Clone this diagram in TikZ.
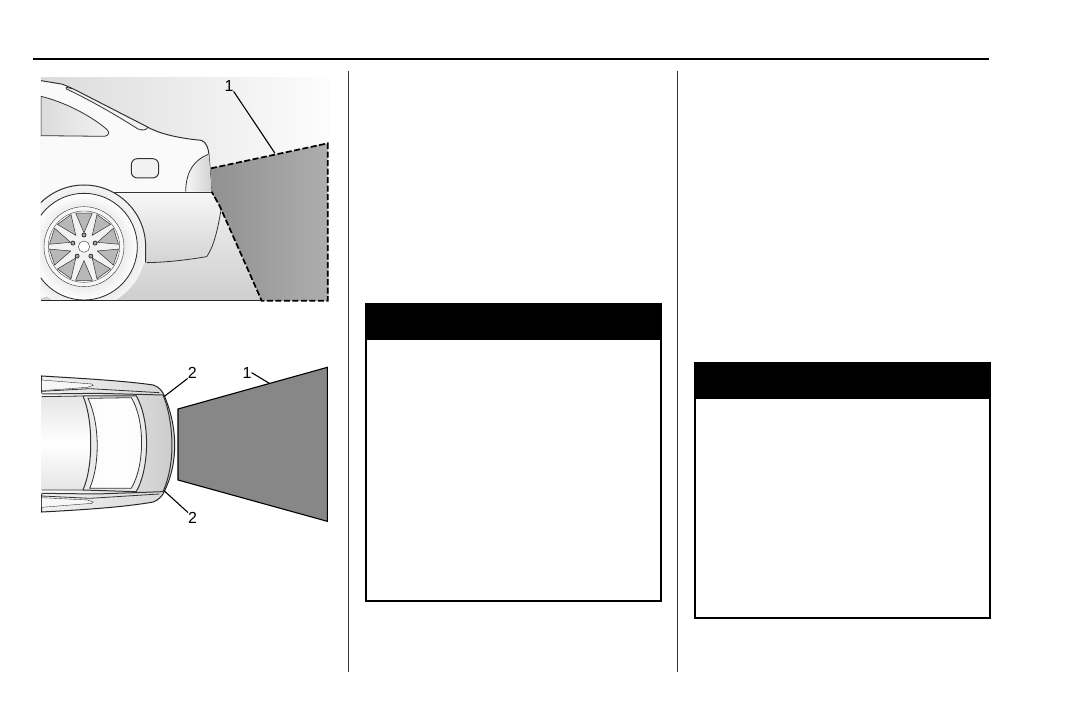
\documentclass[tikz,border=0pt]{standalone}
\usepackage{fontspec}
\setmainfont{Liberation Sans}
\usetikzlibrary{calc}
\tikzset{
  rule/.style={line width=1.7pt,black},
  colrule/.style={black!80,line width=1pt},
  warnbox/.style={draw=black,line width=2pt},
  warnhead/.style={fill=black,draw=none},
  carline/.style={black!80,line width=0.8pt},
  leader/.style={black,line width=1.1pt},
  calllabel/.style={font=\fontsize{16}{16}\selectfont,inner sep=0pt,black},
}
\begin{document}
\begin{tikzpicture}[x=1pt,y=-1pt]
\useasboundingbox (0,0) rectangle (1071,714);
\fill[white] (0,0) rectangle (1071,714);
% page rules
\coordinate (hl) at (33,59); \coordinate (hr) at (989,59);
\draw[rule] (hl) -- (hr);
\coordinate (c1t) at (348.5,71); \coordinate (c1b) at (348.5,672);
\coordinate (c2t) at (677.5,71); \coordinate (c2b) at (677.5,672);
\draw[colrule] (c1t) -- (c1b);
\draw[colrule] (c2t) -- (c2b);
% warning boxes
\draw[warnbox] (366,304) rectangle (660.5,600.5);
\fill[warnhead] (365,303) rectangle (661.5,340);
\draw[warnbox] (695,363) rectangle (989.5,618);
\fill[warnhead] (694,362) rectangle (990.5,398.5);

% ---------- upper illustration (zoom coordinates)
\begin{scope}[x=0.33333pt,y=-0.33333pt,shift={(90,195)}]
  \begin{scope}
    \clip (33,38) rectangle (895,708);
    \shade[left color=black!14,right color=black!1] (33,38) rectangle (895,400);
    \shade[top color=black!6,bottom color=black!19] (33,400) rectangle (895,708);
    % car body
    \path[fill=black!2,draw=none] (33,47) -- (94,57) .. controls (105,60) and (115,65) .. (130,72) -- (354,187)
      .. controls (400,212) and (470,222) .. (514,226)
      .. controls (530,232) and (535,250) .. (537,270) -- (545,380)
      -- (575,425) .. controls (565,480) and (555,540) .. (530,575)
      .. controls (470,585) and (410,592) .. (350,593) -- (33,700) -- cycle;
    \shade[top color=black!3,bottom color=black!17] (250,382) -- (545,382) -- (575,425)
      .. controls (565,480) and (555,540) .. (530,575)
      .. controls (470,585) and (410,592) .. (350,593) -- (330,500) -- cycle;
    \draw[carline,line width=1pt] (33,47) -- (94,57) .. controls (105,60) and (115,65) .. (130,72) -- (354,187)
      .. controls (400,212) and (470,222) .. (514,226)
      .. controls (530,232) and (535,250) .. (537,270) -- (545,380);
    % roof band
    \path[fill=black!5,draw=black!80,line width=.8pt] (109,67) -- (130,72) -- (354,187)
      .. controls (350,196) and (335,197) .. (324,192)
      .. controls (250,145) and (170,100) .. (109,72) -- cycle;
    \draw[carline] (575,425) .. controls (565,480) and (555,540) .. (530,575)
      .. controls (470,585) and (410,592) .. (350,593);
    \draw[carline] (545,382) -- (575,425);
    % side window
    \shade[draw=black!80,line width=0.8pt,left color=black!14,right color=black!5] (33,94)
      .. controls (100,110) and (180,150) .. (229,192)
      .. controls (240,200) and (238,212) .. (224,214) -- (33,212) -- cycle;
    % rear lamp
    \shade[left color=black!3,right color=black!18] (534,268)
      .. controls (495,285) and (468,315) .. (467,380) -- (545,380) -- (537,270) -- cycle;
    \draw[carline] (534,268) .. controls (495,285) and (468,315) .. (467,380);
    \draw[carline] (250,382) -- (545,382);
    % fuel door
    \draw[black!80,fill=black!5,line width=1pt,rounded corners=6pt] (304,281) rectangle (386,339);
    % arch and tyre
    \shade[inner color=black!25,outer color=black!4] (162,545) circle (186);
    \draw[carline,line width=1pt] (347,593) -- (347,545) arc (0:-140:185);
    \shade[inner color=black!30,outer color=white] (162,545) circle (160);
    \draw[black!85,line width=.8pt] (162,545) circle (160);
    \fill[black!3,draw=black!80] (162,545) circle (120);
    \draw[black!75] (162,545) circle (107);
    \fill[black!5] (162,545) circle (105);
    \foreach \a in {0,36,...,324}{
      \fill[black!28,draw=black!80,line width=.5pt] ($(162,545)+(\a+18+14:104)$) -- ($(162,545)+(\a+18-14:104)$) -- ($(162,545)+(\a+18:42)$) -- cycle;
    }
    \fill[white,draw=black!80] (162,545) circle (17);
    \foreach \a in {18,90,162,234,306}{
      \fill[black!35,draw=black!85,line width=.7pt] ($(162,545)+(-\a:35)$) circle (6);
    }
    % ground edge
    \draw[black!85,line width=1pt] (33,707) -- (695,707);
  \end{scope}
  % zone
  \coordinate (z1) at (543,310); \coordinate (z2) at (893,235); \coordinate (z3) at (893,707);
  \coordinate (z4) at (695,707); \coordinate (z5) at (570,425); \coordinate (z6) at (545,380);
  \shade[left color=black!43,right color=black!32] (z1) -- (z2) -- (z3) -- (z4) -- (z5) -- (z6) -- cycle;
  \draw[black,line width=1.7pt,dash pattern=on 6pt off 2.5pt] (z1) -- (z2) -- (z3) -- (z4) -- (z5) -- (z6);
  \node[calllabel] (a1) at (597,62) {1};
  \coordinate (a1e) at (735,265);
  \draw[leader] (a1.south east) -- (a1e);
\end{scope}

% ---------- lower illustration (zoom coordinates)
\begin{scope}[x=0.33333pt,y=-0.33333pt,shift={(90,1050)}]
  % car from above
  \shade[left color=black!5,right color=black!16,draw=black!85,line width=1pt] (35,78)
    .. controls (150,85) and (280,92) .. (370,105)
    .. controls (390,112) and (398,125) .. (404,140)
    .. controls (425,190) and (434,240) .. (434,285)
    .. controls (434,340) and (422,385) .. (404,422)
    .. controls (398,438) and (385,450) .. (370,456)
    .. controls (280,472) and (150,480) .. (35,486) -- cycle;
  % deck
  \shade[left color=white,right color=black!20] (35,128) -- (399,135)
    .. controls (418,180) and (426,240) .. (426,287)
    .. controls (426,340) and (415,390) .. (399,425) -- (35,432) -- cycle;
  \draw[carline,line width=1pt] (35,132) -- (200,130) -- (399,135)
    .. controls (418,180) and (426,240) .. (426,287)
    .. controls (426,340) and (415,390) .. (399,425) -- (200,432) -- (35,430);
  \draw[carline] (35,124) -- (180,116) -- (388,128);
  \draw[carline] (35,438) -- (180,445) -- (388,432);
  % side strips
  \path[fill=black!3,draw=black!80] (35,90) -- (185,102) -- (190,106) -- (172,112) -- (35,122) -- cycle;
  \path[fill=black!3,draw=black!80] (35,443) -- (172,450) -- (190,456) -- (185,460) -- (35,472) -- cycle;
  % cabin
  \shade[top color=black!10,bottom color=black!10,middle color=white] (35,140) -- (159,138)
    .. controls (190,210) and (190,350) .. (159,420) -- (35,420) -- cycle;
  \draw[carline] (35,140) -- (159,138) (35,420) -- (159,420);
  % rear window
  \path[fill=black!8] (159,138) -- (319,138) .. controls (360,210) and (360,350) .. (319,425) -- (159,420)
    .. controls (190,350) and (190,210) .. (159,138) -- cycle;
  \shade[left color=black!2,right color=black!2,middle color=white] (174,145) -- (304,143)
    .. controls (345,210) and (345,345) .. (304,415) -- (179,415)
    .. controls (210,345) and (210,220) .. (174,145) -- cycle;
  \draw[carline] (174,145) -- (304,143) .. controls (345,210) and (345,345) .. (304,415) -- (179,415)
    .. controls (210,345) and (210,220) .. (174,145) -- cycle;
  \draw[carline,line width=1pt] (159,138) .. controls (190,210) and (190,350) .. (159,420);
  \draw[carline,line width=1pt] (159,138) -- (319,138) .. controls (360,210) and (360,350) .. (319,425) -- (159,420);
  % zone
  \coordinate (y1) at (444,177); \coordinate (y2) at (892,52);
  \coordinate (y3) at (892,514); \coordinate (y4) at (444,390);
  \fill[fill=black!47,draw=black,line width=1.1pt] (y1) -- (y2) -- (y3) -- (y4) -- cycle;
  \node[calllabel] (b1) at (651,68) {1};
  \coordinate (b1e) at (718,100);
  \draw[leader] (b1.east) -- (b1e);
  \node[calllabel] (b2) at (487,68) {2};
  \coordinate (b2e) at (402,140);
  \draw[leader] (b2.south west) -- (b2e);
  \node[calllabel] (b3) at (488,505) {2};
  \coordinate (b3e) at (402,422);
  \draw[leader] (b3.north west) -- (b3e);
\end{scope}
\end{tikzpicture}
\end{document}
